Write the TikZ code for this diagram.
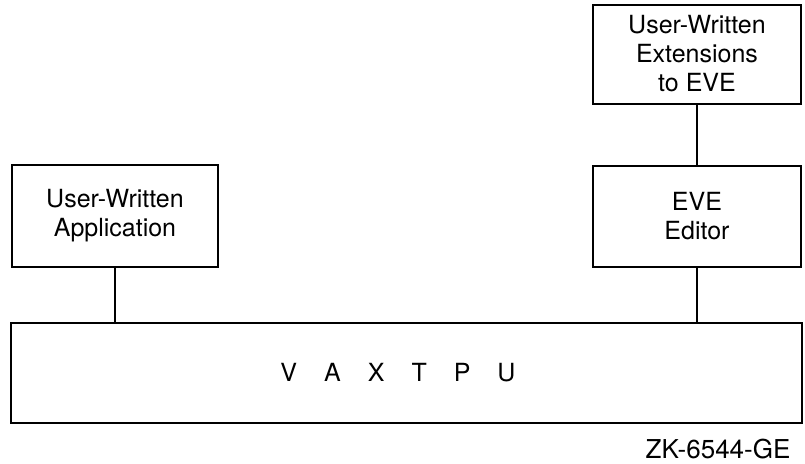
\documentclass[tikz,border=0pt]{standalone}
\usepackage{fontspec}
\setmainfont{TeX Gyre Heros}
\usetikzlibrary{positioning}

\begin{document}
\begin{tikzpicture}[x=1pt, y=-1pt, box/.style={draw, line width=2pt, inner sep=0pt, align=center, font=\fontsize{25}{29}\selectfont}, link/.style={line width=2pt}]
		\useasboundingbox (0,0) rectangle (805,463);
		\node[box, minimum width=206pt, minimum height=102pt] (app) at (115,216) {User-Written\\Application};
		\node[box, minimum width=208pt, minimum height=101pt] (eve) at (697,216) {EVE\\Editor};
		\node[box, minimum width=208pt, minimum height=99pt, above=60pt of eve] (ext) {User-Written\\Extensions\\to EVE};
		\node[box, minimum width=791pt, minimum height=100pt] (tpu) at (406,373) {V\hspace{27pt}A\hspace{27pt}X\hspace{27pt}T\hspace{27pt}P\hspace{27pt}U\hspace{16pt}};
		\node[font=\fontsize{26}{30}\selectfont, inner sep=0pt] (zk) at (718,449) {ZK-6544-GE};


		\draw[link] (ext) -- (eve);
		\draw[link] (eve) -- (eve |- tpu.north);
		\draw[link] (app) -- (app |- tpu.north);
	\end{tikzpicture}
\end{document}
